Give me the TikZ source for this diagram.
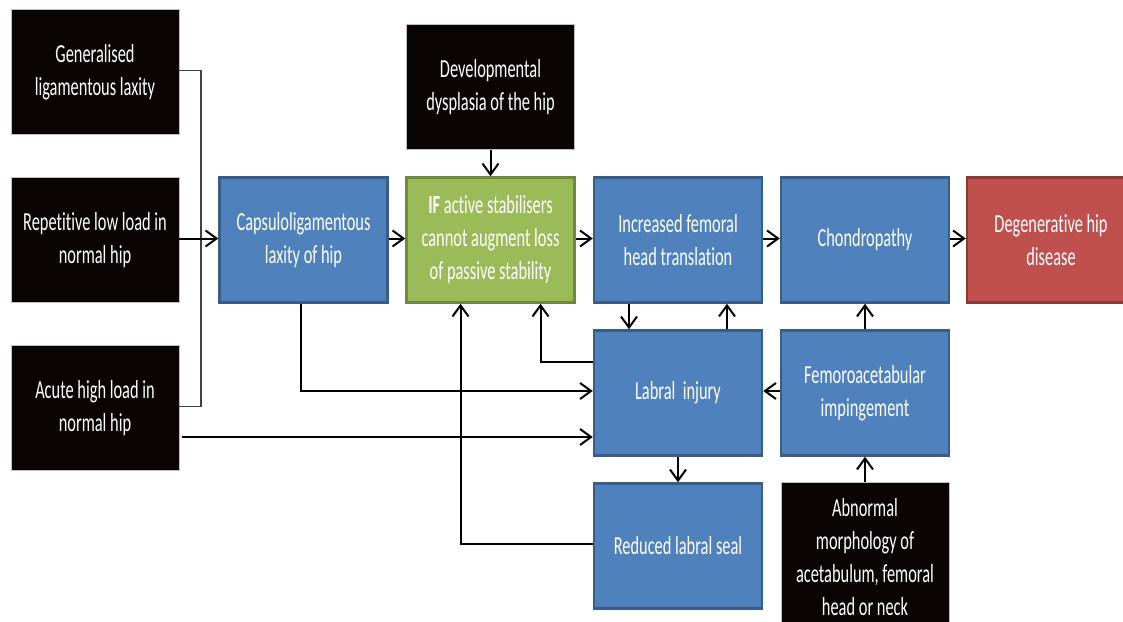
\documentclass[tikz,border=0pt]{standalone}
\usepackage{fontspec}
\setmainfont{Carlito}[FakeStretch=0.63, Ligatures=NoCommon]
\usetikzlibrary{arrows.meta}

\definecolor{boxblue}{HTML}{4F81BD}
\definecolor{blueline}{HTML}{385D8A}
\definecolor{boxgreen}{HTML}{9BBB59}
\definecolor{greenline}{HTML}{71893F}
\definecolor{boxred}{HTML}{C0504D}
\definecolor{redline}{HTML}{8C3836}
\definecolor{boxblack}{HTML}{0A0404}

\tikzset{
  box/.style={rectangle, minimum width=168pt, minimum height=125pt, inner sep=0pt,
    align=center, text=white, font=\fontsize{26}{33}\selectfont},
  blackbox/.style={box, fill=boxblack, draw=gray!50, line width=0.8pt},
  bluebox/.style={box, fill=boxblue, draw=blueline, line width=2.5pt},
  greenbox/.style={box, fill=boxgreen, draw=greenline, line width=2.5pt},
  redbox/.style={box, fill=boxred, draw=redline, line width=2.5pt},
  arr/.style={-{Straight Barb[length=11pt,width=16pt]}, line width=2pt},
  thinline/.style={line width=1.2pt, draw=black!75},
}

\begin{document}
\begin{tikzpicture}[x=1pt, y=-1pt]
\useasboundingbox (0,0) rectangle (1123,621);
\clip (0,0) rectangle (1123,621);

% causes on the left
\node[blackbox] (gen) at (95,72) {Generalised\\ligamentous laxity};
\node[blackbox] (rep) at (95,240) {Repetitive low load in\\normal hip};
\node[blackbox] (acute) at (95,408) {Acute high load in\\normal hip};

% top row
\node[bluebox] (caps) at (303.5,240) {Capsuloligamentous\\laxity of hip};
\node[blackbox] (ddh) at (490.5,87) {Developmental\\dysplasia of the hip};
\node[greenbox] (ifstab) at (490.5,240) {\textbf{IF} active stabilisers\\cannot augment loss\\of passive stability};
\node[bluebox] (incr) at (678,240) {Increased femoral\\head translation};
\node[bluebox] (chon) at (865,240) {Chondropathy};
\node[redbox] (deg) at (1051,240) {Degenerative hip\\disease};

% lower rows
\node[bluebox] (labral) at (678,393) {Labral\ \ injury};
\node[bluebox] (fai) at (865,393) {Femoroacetabular\\impingement};
\node[bluebox] (seal) at (678,546) {Reduced labral seal};
\node[blackbox, minimum height=150pt] (morph) at (865,557) {Abnormal\\morphology of\\acetabulum, femoral\\head or neck};

\coordinate (bus) at (201,240);

\draw[thinline] ([yshift=1.5pt]gen.east) -| (bus) |- ([yshift=1.5pt]acute.east);
\draw[arr] ([yshift=1.5pt]rep.east) -- ([yshift=1.5pt]caps.west);
\draw[arr] ([yshift=1.5pt]caps.east) -- ([yshift=1.5pt]ifstab.west);
\draw[arr] (ddh) -- (ifstab);
\draw[arr] ([yshift=1.5pt]ifstab.east) -- ([yshift=1.5pt]incr.west);
\draw[arr] ([yshift=1.5pt]incr.east) -- ([yshift=1.5pt]chon.west);
\draw[arr] ([yshift=1.5pt]chon.east) -- ([yshift=1.5pt]deg.west);

\draw[arr] ([xshift=-49pt]incr.south) -- ([xshift=-49pt]labral.north);
\draw[arr] ([xshift=49pt]labral.north) -- ([xshift=49pt]incr.south);
\draw[arr] ([yshift=31pt]labral.west) -| ([xshift=50pt]ifstab.south);
\draw[arr] ([xshift=-3pt]caps.south) |- ([yshift=2pt]labral.west);
\draw[arr] ([yshift=-29pt,xshift=3pt]acute.east) -- ([yshift=-29pt]acute.east -| labral.west);
\draw[arr] ([yshift=2pt]fai.west) -- ([yshift=2pt]labral.east);
\draw[arr] (fai) -- (chon);
\draw[arr] (morph.north) -- (fai.south);
\draw[arr] (labral) -- (seal);
\draw[arr] ([yshift=2pt]seal.west) -| ([xshift=-30pt]ifstab.south);
\end{tikzpicture}
\end{document}
